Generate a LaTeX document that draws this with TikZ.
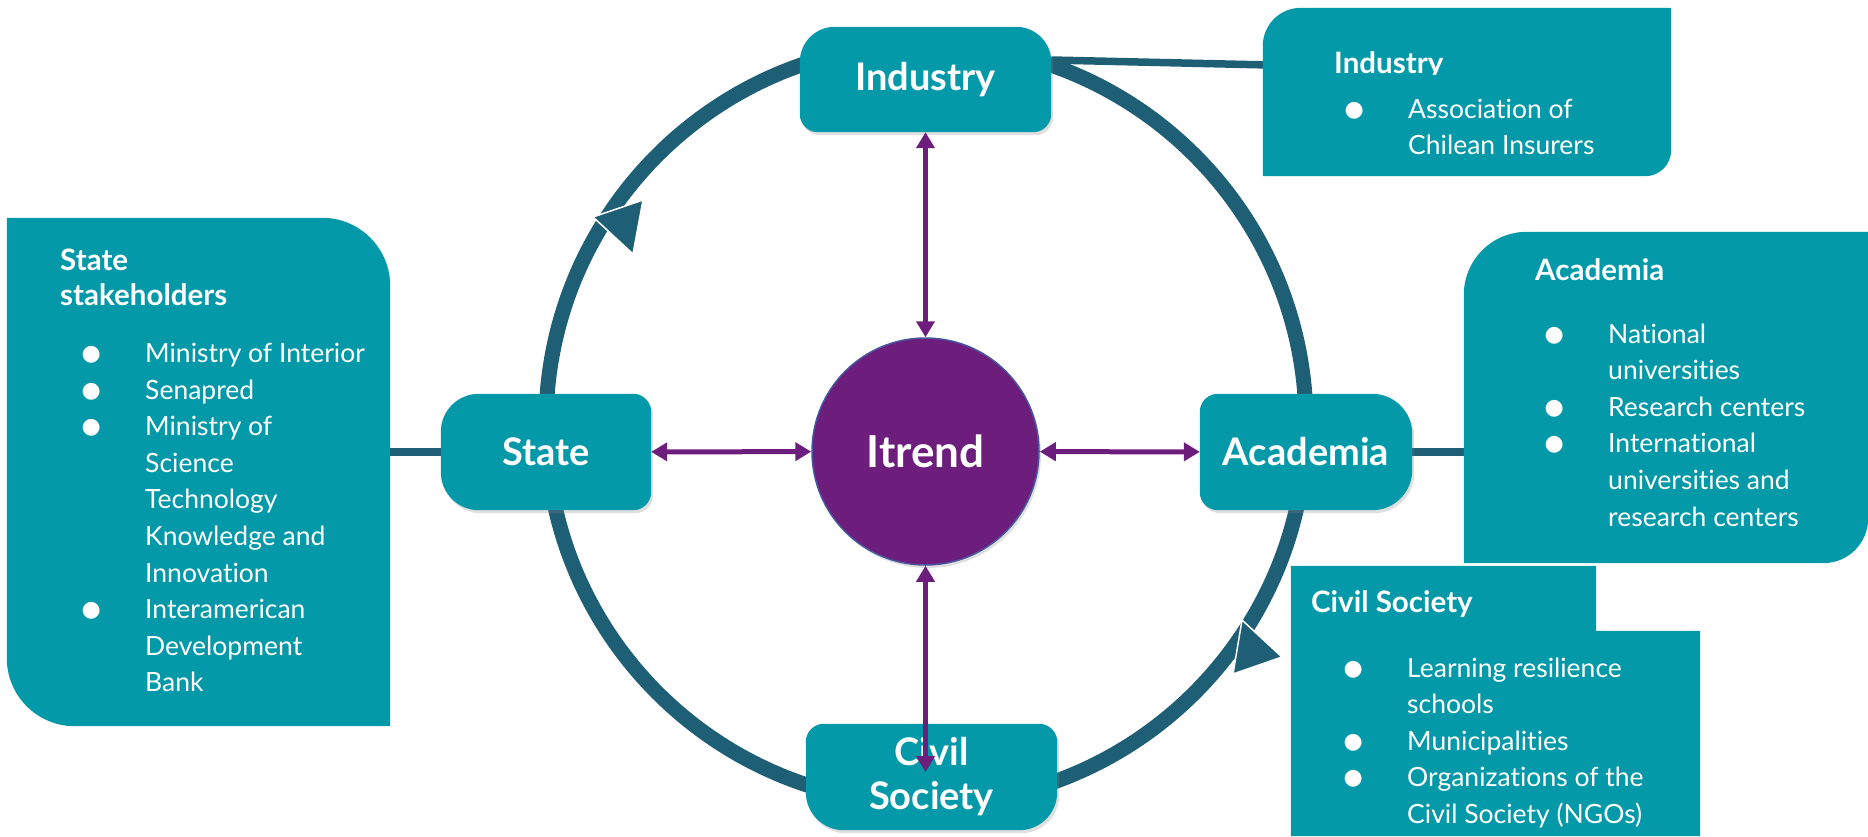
\documentclass[tikz,border=0pt]{standalone}
\usepackage{fontspec}
\setmainfont{Lato}[Ligatures=NoCommon]
\newfontfamily\dotfont{DejaVu Sans}
\usepackage{xcolor}
\usetikzlibrary{arrows.meta,shadows,backgrounds}

\definecolor{tealbox}{RGB}{3,153,168}
\definecolor{ringblue}{RGB}{31,95,118}
\definecolor{itrendpurple}{RGB}{109,29,124}
\definecolor{hubedge}{RGB}{72,86,160}

\newcommand\labelfont{\bfseries\fontsize{38}{44}\selectfont}
\newcommand\hubfont{\bfseries\fontsize{44}{50}\selectfont}
\newcommand\headfont{\bfseries\fontsize{29.5}{35}\selectfont}
\newcommand\bodyfont{\fontsize{26.5}{36.6}\selectfont}
\newcommand\bul{\makebox[13pt]{\raisebox{2pt}{\dotfont\fontsize{22}{22}\selectfont ●}}}
\newcommand\stack[1]{\begin{tabular}[t]{@{}l@{\hspace{47.5pt}}l@{}}#1\end{tabular}}
% box with its own radius at each corner: tl, tr, br, bl
\newcommand\tile[6][]{%
  \fill[tealbox,#1] ([xshift=#3]#2.north west) -- ([xshift=-#4]#2.north east)
    arc[start angle=90,end angle=0,radius=#4] -- ([yshift=#5]#2.south east)
    arc[start angle=0,end angle=-90,radius=#5] -- ([xshift=#6]#2.south west)
    arc[start angle=-90,end angle=-180,radius=#6] -- ([yshift=-#3]#2.north west)
    arc[start angle=180,end angle=90,radius=#3] -- cycle;}

\begin{document}
\begin{tikzpicture}[x=1pt,y=-1pt,
    actor/.style={rectangle, inner sep=0pt, text=white, font=\labelfont, align=center},
    infobox/.style={rectangle, inner sep=0pt},
    itemtext/.style={inner sep=0pt, anchor=base west, text=white, font=\bodyfont},
    headtext/.style={inner sep=0pt, anchor=base west, text=white, font=\headfont},
    link/.style={draw=ringblue, line width=7.5pt},
    twoway/.style={draw=itrendpurple, line width=5pt, >={Triangle[width=18pt,length=16pt]}, <->},
    boxshadow/.style={drop shadow={opacity=0.25, shadow xshift=2pt, shadow yshift=-3pt}}]

    \useasboundingbox (0,0) rectangle (1868,836);
    \def\ringr{380pt} % radius of the ring

    % hub
    \node[circle, fill=itrendpurple, draw=hubedge, line width=1.5pt, minimum size=227pt,
        text=white, font=\hubfont, boxshadow] (itrend) at (925.5,451.5) {Itrend};

    % the four sectors on the ring
    \node[actor, minimum width=251pt, minimum height=105pt] (industry) at (925.5,79.5) {Industry};
    \node[actor, minimum width=210pt, minimum height=116pt] (state) at (546,452) {State};
    \node[actor, minimum width=212pt, minimum height=116pt] (academia) at (1306,452) {Academia};
    \node[actor, minimum width=251pt, minimum height=106pt] (civil) at (931.5,777) {Civil\\Society};

    % stakeholder boxes
    \node[infobox, minimum width=408pt, minimum height=168pt] (indinfo) at (1467,92) {};
    \node[infobox, minimum width=383pt, minimum height=508pt] (stateinfo) at (198.5,472) {};
    \node[infobox, minimum width=404pt, minimum height=331pt] (acadinfo) at (1666,397.5) {};
    \node[infobox, minimum width=409pt, minimum height=270pt] (civilinfo) at (1495.5,701) {};

    \begin{scope}
        \clip (1263,8) rectangle (1671,74.5); % descender is cut off
        \node[headtext] (indhead) at (1334,73) {Industry};
    \end{scope}
    \node[itemtext] (indlist) at (1347.5,118) {\stack{\bul & Association of\\ & Chilean Insurers}};

    \node[headtext] (statehead) at (60,270) {\begin{tabular}[t]{@{}l@{}}State\\stakeholders\end{tabular}};
    \node[itemtext] (statelist) at (84.5,362.5) {\stack{\bul & Ministry of Interior\\ \bul & Senapred\\
        \bul & Ministry of\\ & Science\\ & Technology\\ & Knowledge and\\ & Innovation\\
        \bul & Interamerican\\ & Development\\ & Bank}};

    \node[headtext] (acadhead) at (1535,280) {Academia};
    \node[itemtext] (acadlist) at (1547.5,343) {\stack{\bul & National\\ & universities\\
        \bul & Research centers\\ \bul & International\\ & universities and\\ & research centers}};

    \node[headtext] (civilhead) at (1311,612) {Civil Society};
    \node[itemtext] (civillist) at (1346.5,677) {\stack{\bul & Learning resilience\\ & schools\\
        \bul & Municipalities\\ \bul & Organizations of the\\ & Civil Society (NGOs)}};

    % links to the hub
    \foreach \n in {industry,state,academia}
        \draw[twoway] (\n) -- (itrend);
    \draw[twoway] (itrend.south) -- ([yshift=5pt]itrend.south |- civil.center);

    \begin{pgfonlayer}{background}
        \draw[ringblue, line width=15pt] (926,424) circle[radius=\ringr];
        \fill[ringblue, draw=white, line width=1.5pt] (593,217) -- (643,200) -- (633,254) -- cycle;
        \fill[ringblue, draw=white, line width=1.5pt] (1242,620) -- (1282,657) -- (1233,674) -- cycle;

        \draw[link] ([yshift=19.5pt]industry.east) -- ([yshift=27pt,xshift=6pt]indinfo.west);
        \draw[link] (state.west) -- (stateinfo.east |- state.west);
        \draw[link] (academia.east) -- (acadinfo.west |- academia.east);

        \tile[boxshadow]{industry}{35pt}{35pt}{18pt}{18pt}
        \tile[boxshadow]{state}{38pt}{18pt}{18pt}{38pt}
        \tile[boxshadow]{academia}{18pt}{40pt}{40pt}{18pt}
        \tile[boxshadow]{civil}{18pt}{18pt}{38pt}{38pt}

        \tile{indinfo}{38pt}{.1pt}{26pt}{.1pt}
        \tile{stateinfo}{.1pt}{68pt}{.1pt}{68pt}
        \tile{acadinfo}{63pt}{.1pt}{45pt}{.1pt}
        \fill[tealbox] (civilinfo.north west) -- ([xshift=-104pt]civilinfo.north east)
            -- ([xshift=-104pt,yshift=-65pt]civilinfo.north east) -- ([yshift=-65pt]civilinfo.north east)
            -- (civilinfo.south east) -- (civilinfo.south west) -- cycle;
    \end{pgfonlayer}
\end{tikzpicture}
\end{document}
